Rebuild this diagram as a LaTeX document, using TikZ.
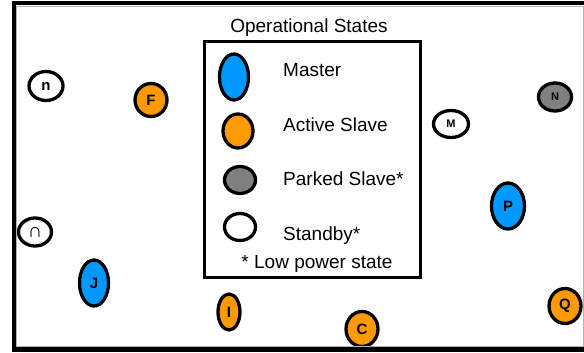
\documentclass[tikz,border=0pt]{standalone}
\usepackage{fontspec}
\setmainfont{Liberation Sans}
\usetikzlibrary{shapes.geometric}
\definecolor{masterblue}{RGB}{0,153,255}
\definecolor{slaveorange}{RGB}{255,153,0}
\definecolor{parkedgray}{RGB}{128,128,128}
\tikzset{
  unit/.style={ellipse, draw=black, line width=3.3pt, inner sep=0pt,
    font=\bfseries\fontsize{15}{15}\selectfont},
  tiny/.style={font=\bfseries\fontsize{11}{11}\selectfont},
  sz/.style 2 args={minimum width=#1pt, minimum height=#2pt},
  master/.style={unit, fill=masterblue},
  active/.style={unit, fill=slaveorange},
  parked/.style={unit, fill=parkedgray},
  standby/.style={unit, fill=white},
  legtext/.style={anchor=base west, inner sep=0pt,
    font=\fontsize{19}{21}\selectfont},
}
\begin{document}
\begin{tikzpicture}[x=1pt, y=-1pt]
		\useasboundingbox (0,0) rectangle (584,353);
		% legend
		\node (title) [legtext, anchor=base] at (309,33) {Operational States};
		\draw [line width=3pt] (204,42) rectangle (420,277);
		\node (kmaster) [master, sz={29}{46}] at (234,77) {};
		\node (kactive) [active, sz={30}{34}] at (238,131) {};
		\node (kparked) [parked, sz={31}{27}] at (240,180) {};
		\node (kstandby) [standby, sz={31}{27}] at (240,227) {};
		\node (tmaster) [legtext] at (283,77) {Master};
		\node (tactive) [legtext] at (283,131) {Active Slave};
		\node (tparked) [legtext] at (283,185) {Parked Slave*};
		\node (tstandby) [legtext] at (283,240) {Standby*};
		\node (tlow) [legtext, anchor=base] at (317,268) {* Low power state};
		% piconet units
		\node (n) [standby, sz={34}{29}, font=\bfseries\fontsize{15}{15}\selectfont] at (46,86) {n};
		\node (F) [active, sz={32}{33}] at (151,100) {F};
		\node (M) [standby, tiny, sz={35}{27}] at (451,124) {M};
		\node (N) [parked, tiny, sz={33}{28}] at (555,97) {N};
		\node (cap) [standby, sz={33}{28}, font=\bfseries\fontsize{20}{20}\selectfont] at (35,232) {∩};
		\node (J) [master, sz={29}{46}] at (94,283) {J};
		\node (I) [active, sz={22}{36}] at (229,312) {I};
		\node (P) [master, sz={33}{46}] at (508,206) {P};
		\node (C) [active, sz={32}{35}] at (362,329) {C};
		\node (Q) [active, sz={32}{35}] at (565,306) {Q};
		% frame
		\draw [gray!60, line width=1pt] (16.5,6.5) rectangle (583,346.5);
		\draw [line width=4pt] (12,3) -- (584,3);
		\draw [line width=4pt] (14,1) -- (14,352);
		\draw [line width=5pt] (12,349.5) -- (584,349.5);
\end{tikzpicture}
\end{document}
